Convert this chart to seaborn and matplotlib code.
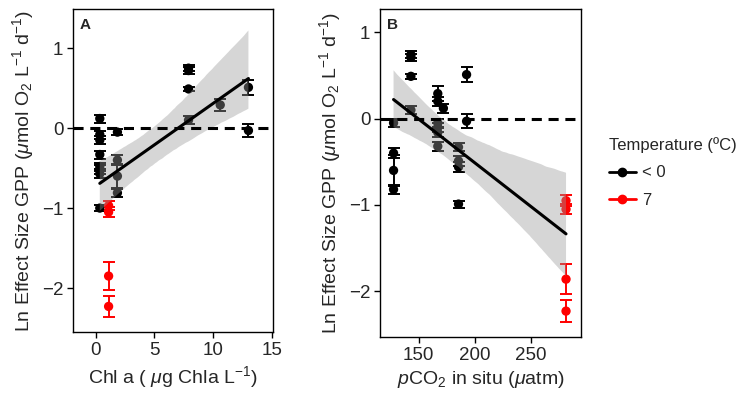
import numpy as np
import pandas as pd
import matplotlib
matplotlib.use("Agg")
import matplotlib.pyplot as plt
import seaborn as sns
from matplotlib.lines import Line2D

sns.set_style("ticks")
plt.rcParams['font.family'] = ['Liberation Sans', 'DejaVu Sans']
plt.rcParams['mathtext.fontset'] = 'custom'
plt.rcParams['mathtext.rm'] = 'Liberation Sans'
plt.rcParams['mathtext.it'] = 'Liberation Sans:italic'

# -------------------------------
# Data
# -------------------------------
# Panel A: Chl a vs effect size
chl_x = [0.35, 0.35, 0.35, 0.35, 0.35, 0.35, 0.35, 0.35,
         1.85, 1.85, 1.85, 1.85,
         7.9, 7.9, 7.9, 7.9,
         10.6,
         13.0, 13.0,
         1.1, 1.1, 1.1, 1.1]
chl_y = [0.12, -0.08, -0.15, -0.33, -0.48, -0.52, -0.57, -1.00,
         -0.05, -0.40, -0.60, -0.81,
         0.75, 0.72, 0.49, 0.10,
         0.29,
         0.51, -0.03,
         -0.97, -1.05, -1.85, -2.23]
chl_err = [0.05, 0.05, 0.05, 0.05, 0.05, 0.06, 0.06, 0.04,
           0.04, 0.06, 0.15, 0.05,
           0.04, 0.04, 0.03, 0.05,
           0.08,
           0.09, 0.08,
           0.06, 0.06, 0.17, 0.13]
chl_temp = ['< 0'] * 19 + ['7'] * 4

# Panel B: pCO2 vs effect size
pco2_x = [127.5, 127.5, 127.5, 127.5,
          143, 143, 143, 143,
          167, 167, 167, 167, 167, 167, 172,
          185.5, 185.5, 185.5, 185.5,
          192.7, 192.7,
          281.5, 281.5, 281.5, 281.5]
pco2_y = [-0.05, -0.40, -0.60, -0.82,
          0.74, 0.71, 0.49, 0.10,
          0.29, 0.20, -0.05, -0.10, -0.16, -0.32, 0.12,
          -0.33, -0.49, -0.56, -0.99,
          0.51, -0.03,
          -0.95, -1.05, -1.86, -2.23]
pco2_err = [0.05, 0.06, 0.18, 0.05,
            0.04, 0.04, 0.03, 0.05,
            0.09, 0.05, 0.05, 0.05, 0.05, 0.05, 0.05,
            0.05, 0.06, 0.06, 0.04,
            0.09, 0.08,
            0.06, 0.06, 0.17, 0.13]
pco2_temp = ['< 0'] * 21 + ['7'] * 4

temp_levels = ['< 0', '7']
temp_colors = {'< 0': 'black', '7': 'red'}

df_a = pd.DataFrame({'x': chl_x, 'y': chl_y, 'err': chl_err, 'temp': chl_temp})
df_b = pd.DataFrame({'x': pco2_x, 'y': pco2_y, 'err': pco2_err, 'temp': pco2_temp})

# -------------------------------
# Figure
# -------------------------------
fig = plt.figure(figsize=(7.43, 3.95), dpi=100)
ax_a = fig.add_axes([73 / 743, (395 - 332) / 395, 200 / 743, 323 / 395])
ax_b = fig.add_axes([380 / 743, (395 - 337) / 395, 200.7 / 743, 328 / 395])


def draw_panel(ax, df, letter):
    for t in temp_levels:
        sub = df[df['temp'] == t]
        ax.errorbar(sub['x'], sub['y'], yerr=sub['err'], fmt='none',
                    ecolor=temp_colors[t], elinewidth=1.4, capsize=4,
                    capthick=1.4, zorder=2)
    sns.scatterplot(data=df, x='x', y='y', hue='temp', hue_order=temp_levels,
                    palette=temp_colors, s=45, edgecolor='none', legend=False,
                    ax=ax, zorder=2)
    n_before = len(ax.collections)
    sns.regplot(data=df, x='x', y='y', scatter=False, ci=95, n_boot=2000,
                seed=7, color='black', line_kws=dict(lw=2.2, zorder=4), ax=ax)
    band = ax.collections[n_before]
    band.set_facecolor('#999999')
    band.set_alpha(0.4)
    band.set_edgecolor('none')
    band.set_zorder(3)
    ax.axhline(0, color='black', lw=2.2, ls=(0, (3.3, 2.2)), zorder=5)
    ax.text(0.035, 0.972, letter, transform=ax.transAxes, fontsize=11,
            fontweight='bold', va='top', ha='left')
    ax.set_yticks([-2, -1, 0, 1])
    ax.set_ylabel('Ln Effect Size GPP ($\\mu$mol O$_2$ L$^{-1}$ d$^{-1}$)',
                  fontsize=14, labelpad=4)
    ax.tick_params(direction='out', length=4, width=1, color='black',
                   labelsize=13.5, pad=3)
    for sp in ax.spines.values():
        sp.set_visible(True)
        sp.set_color('black')
        sp.set_linewidth(1)


draw_panel(ax_a, df_a, 'A')
ax_a.set_xlim(-1.93, 15.09)
ax_a.set_ylim(-2.55, 1.49)
ax_a.set_xticks([0, 5, 10, 15])
ax_a.set_xlabel('Chl a ( $\\mu$g Chla L$^{-1}$)', fontsize=14, labelpad=4)

draw_panel(ax_b, df_b, 'B')
ax_b.set_xlim(115.4, 294.6)
ax_b.set_ylim(-2.53, 1.27)
ax_b.set_xticks([150, 200, 250])
ax_b.set_xlabel('$p$CO$_2$ in situ ($\\mu$atm)', fontsize=14, labelpad=4)

# Legend
handles = [Line2D([], [], color=temp_colors[t], marker='o', lw=2, markersize=6)
           for t in temp_levels]
fig.legend(handles, temp_levels, title='Temperature (ºC)', loc='upper left',
           bbox_to_anchor=(609 / 743, 1 - 137 / 395), frameon=False,
           borderpad=0, borderaxespad=0,
           fontsize=12, title_fontsize=12, handlelength=1.6, handletextpad=0.4,
           alignment='left', labelspacing=0.75)

fig.savefig('out.png', dpi=100)
